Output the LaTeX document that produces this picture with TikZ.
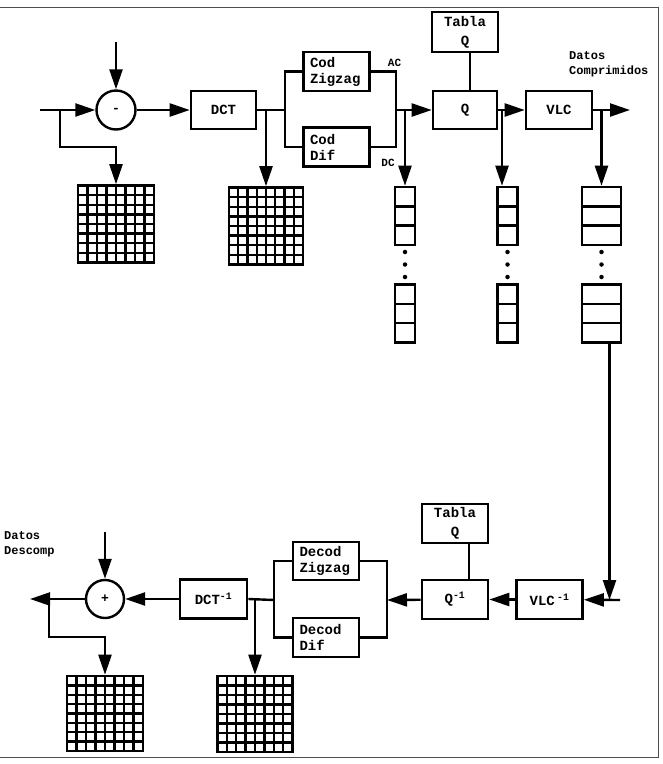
\documentclass[tikz,border=0pt]{standalone}
\usepackage{fontspec}
\setmonofont{Liberation Mono}
\usetikzlibrary{arrows.meta,calc}
\begin{document}
\begin{tikzpicture}[x=1pt,y=-1pt,
  ln/.style={line width=2.4pt},
  arr/.style={ln,-{Triangle[length=20pt,width=13pt]}},
  blk/.style={draw,line width=2.6pt,rectangle,inner sep=0pt,align=center,
    font=\fontsize{14}{16}\selectfont\ttfamily\bfseries},
  wbox/.style={blk,minimum width=66pt,minimum height=39pt},
  zbox/.style={blk,text width=53pt,inner xsep=6.5pt,minimum height=39pt,align=left},
  tbox/.style={blk,minimum width=66pt,minimum height=40pt,
    font=\fontsize{14}{19}\selectfont\ttfamily\bfseries},
  opc/.style={draw,circle,line width=2.4pt,minimum size=39pt,inner sep=0pt,
    font=\fontsize{13}{13}\selectfont\ttfamily\bfseries},
  lbl/.style={inner sep=0pt,align=left,font=\fontsize{12}{15}\selectfont\ttfamily\bfseries},
  gridbox/.style={draw,line width=2.6pt,inner sep=0pt,minimum width=76pt,minimum height=77pt,
    path picture={
      \foreach \i in {1,...,7}{
        \draw[line width=2.4pt]
          ($(path picture bounding box.north west)!\i/8!(path picture bounding box.north east)$) --
          ($(path picture bounding box.south west)!\i/8!(path picture bounding box.south east)$);
        \draw[line width=2.4pt]
          ($(path picture bounding box.north west)!\i/8!(path picture bounding box.south west)$) --
          ($(path picture bounding box.north east)!\i/8!(path picture bounding box.south east)$);
      }}},
  stk/.style={draw,line width=2.6pt,inner sep=0pt,minimum height=58pt,
    path picture={
      \foreach \i in {1,2}{
        \draw[line width=2.4pt]
          ($(path picture bounding box.north west)!\i/3!(path picture bounding box.south west)$) --
          ($(path picture bounding box.north east)!\i/3!(path picture bounding box.south east)$);
      }}},
  dot/.style={circle,fill,inner sep=0pt,minimum size=4.5pt}
]
\useasboundingbox (0,0) rectangle (663,764);
% frame
\draw[line width=1pt,black!70] (0,7) -- (658,7) -- (658,757) -- (0,757);

% ---------------- top row ----------------
\node[opc] (sub) at (116,110) {-};
\node[blk,minimum width=65pt,minimum height=38pt] (dct) at (223.5,110) {DCT};
\node[zbox] (cz) at (336.5,71.5) {Cod\\Zigzag};
\node[zbox] (cd) at (336.5,147) {Cod\\Dif};
\node[blk,minimum width=64pt,minimum height=38pt] (q) at (465,110) {Q};
\node[tbox] (tq) at (465,32) {Tabla\\Q};
\node[wbox,minimum height=38pt] (vlc) at (559,110) {VLC};
\node[gridbox] (g1) at (116,224) {};
\node[gridbox,minimum width=74pt] (g2) at (266,226) {};

\node[stk,minimum width=20pt] (s1a) at (405,216) {};
\node[stk,minimum width=20pt] (s1b) at (405,313.5) {};
\node[stk,minimum width=20pt] (s2a) at (507.5,216) {};
\node[stk,minimum width=20pt] (s2b) at (507.5,313.5) {};
\node[stk,minimum width=39pt] (s3a) at (601.5,216) {};
\node[stk,minimum width=39pt] (s3b) at (601.5,313.5) {};
\foreach \n/\x in {a/405,b/507.5,c/601.5}{
  \node[dot] (d\n1) at (\x,252) {};
  \node[dot] (d\n2) at (\x,264.5) {};
  \node[dot] (d\n3) at (\x,277) {};
}

\node[lbl] (ac) at (394.5,63) {\fontsize{11}{11}\selectfont AC};
\node[lbl] (dc) at (388,163) {\fontsize{11}{11}\selectfont DC};
\node[lbl,anchor=west] (dcomp) at (569,64.5) {Datos\\Comprimidos};

\coordinate (in1) at (40,110);
\coordinate (b1) at (60,110);
\coordinate (b1d) at (60,147);
\coordinate (top1) at (116,42);
\coordinate (s1) at (285,110);
\coordinate (b2) at (266,110);
\coordinate (m1) at (396,110);
\coordinate (b3) at (405,110);
\coordinate (b4) at (502,110);
\coordinate (b5) at (601.5,110);
\coordinate (out1) at (630,110);

\draw[arr] (in1) -- (sub);
\draw[arr] (b1) -- (b1d) -| (g1.north);
\draw[arr] (top1) -- (sub);
\draw[arr] (sub) -- (dct);
\draw[ln] (dct.east) -- (s1);
\draw[ln] (cz.west) -| (s1) |- (cd.west);
\draw[arr] (b2) -- (g2.north);
\draw[ln] (cz.east) -| (m1) |- (cd.east);
\draw[arr] (m1) -- (q);
\draw[arr] (b3) -- (s1a.north);
\draw[ln] ($(tq.south)+(5,0)$) -- ($(q.north)+(5,0)$);
\draw[arr] (q) -- (vlc);
\draw[arr] (b4) -- (b4 |- s2a.north);
\draw[arr] (vlc) -- (out1);
\draw[arr] (b5) -- (s3a.north);

% ---------------- bottom row ----------------
\node[wbox] (vlci) at (549.5,599.5) {VLC\,\textsuperscript{-1}};
\node[wbox] (qi) at (455,599.5) {Q\textsuperscript{-1}};
\node[tbox,minimum height=39pt] (tqi) at (455,523.5) {Tabla\\Q};
\node[zbox,minimum height=38pt] (dz) at (326,561) {Decod\\Zigzag};
\node[zbox] (dd) at (326,637.5) {Decod\\Dif};
\node[wbox,minimum width=67pt] (dcti) at (213.5,599) {DCT\textsuperscript{-1}};
\node[opc,minimum size=38pt] (add) at (105,599) {+};
\node[gridbox,minimum width=75pt,minimum height=76pt] (g4) at (255,714) {};
\node[gridbox,minimum height=75pt] (g3) at (105,713.5) {};
\node[lbl,anchor=west] (ddes) at (4,544.5) {Datos\\Descomp};

\coordinate (j) at (609.5,600);
\coordinate (e) at (620,600);
\coordinate (m2) at (387,600);
\coordinate (m3) at (274,600);
\coordinate (b6) at (255,600);
\coordinate (top2) at (105,532);
\coordinate (out2) at (30,599);
\coordinate (b7) at (49,599);
\coordinate (b7d) at (49,637);

\draw[arr] (s3b.south -| j) -- (j);
\draw[arr] (e) -- (vlci);
\draw[arr] (vlci) -- (qi);
\draw[ln] ($(tqi.south)+(14,0)$) -- ($(qi.north)+(14,0)$);
\draw[arr] (qi) -- (m2);
\draw[ln] (dz.east) -| (m2) |- (dd.east);
\draw[ln] (dz.west) -| (m3) |- (dd.west);
\draw[ln] (m3) -- (dcti.east);
\draw[arr] (b6) -- (g4.north);
\draw[arr] (dcti) -- (add);
\draw[arr] (top2) -- (add);
\draw[arr] (add) -- (out2);
\draw[arr] (b7) -- (b7d) -| (g3.north);
\end{tikzpicture}
\end{document}
